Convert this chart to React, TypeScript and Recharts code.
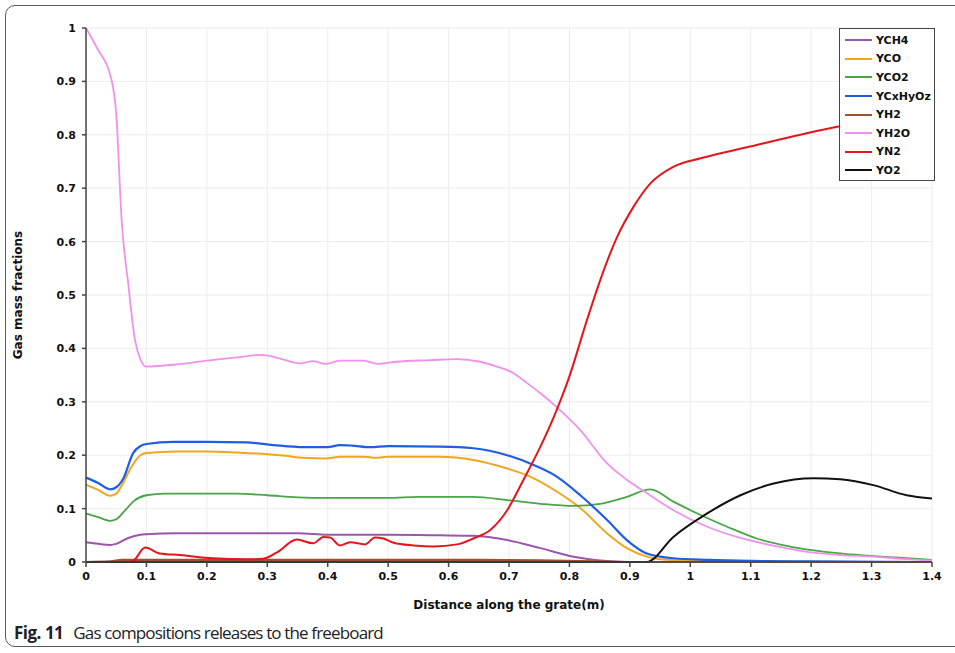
import { LineChart, Line, XAxis, YAxis, CartesianGrid, Legend } from 'recharts';

// [distance (m), mass fraction] pairs for each species along the grate
const yCH4: [number, number][] = [
    [0, 0.037], [0.02, 0.034], [0.04, 0.032], [0.05, 0.034], [0.07, 0.045], [0.09, 0.051], [0.1, 0.052],
    [0.15, 0.054], [0.25, 0.054], [0.35, 0.054], [0.4, 0.051], [0.5, 0.051], [0.586, 0.05], [0.641, 0.049],
    [0.697, 0.041], [0.752, 0.026], [0.807, 0.01], [0.862, 0.002], [0.9, 0], [1.4, 0],
];

const yCO: [number, number][] = [
    [0, 0.145], [0.02, 0.135], [0.04, 0.124], [0.05, 0.128], [0.06, 0.145], [0.075, 0.178], [0.09, 0.2],
    [0.1, 0.204], [0.15, 0.207], [0.2, 0.207], [0.25, 0.205], [0.3, 0.202], [0.33, 0.199], [0.36, 0.195],
    [0.4, 0.194], [0.42, 0.197], [0.46, 0.197], [0.48, 0.195], [0.5, 0.197], [0.586, 0.197], [0.641, 0.191],
    [0.697, 0.175], [0.735, 0.16], [0.779, 0.132], [0.818, 0.101], [0.862, 0.054], [0.895, 0.026],
    [0.928, 0.01], [0.96, 0.004], [1.0, 0.002], [1.1, 0.001], [1.4, 0],
];

const yCO2: [number, number][] = [
    [0, 0.091], [0.02, 0.084], [0.04, 0.077], [0.05, 0.08], [0.065, 0.097], [0.08, 0.115], [0.1, 0.125],
    [0.13, 0.128], [0.2, 0.128], [0.25, 0.128], [0.3, 0.125], [0.35, 0.121], [0.4, 0.12], [0.5, 0.12],
    [0.55, 0.122], [0.641, 0.122], [0.697, 0.116], [0.752, 0.109], [0.807, 0.105], [0.851, 0.109],
    [0.895, 0.122], [0.934, 0.136], [0.972, 0.113], [1.017, 0.088], [1.061, 0.066], [1.11, 0.044],
    [1.165, 0.029], [1.248, 0.016], [1.358, 0.007], [1.4, 0.004],
];

const yCxHyOz: [number, number][] = [
    [0, 0.158], [0.02, 0.148], [0.04, 0.136], [0.05, 0.14], [0.062, 0.157], [0.078, 0.204], [0.09, 0.217],
    [0.1, 0.221], [0.145, 0.225], [0.2, 0.225], [0.266, 0.224], [0.31, 0.219], [0.36, 0.215], [0.4, 0.215],
    [0.42, 0.219], [0.44, 0.218], [0.47, 0.215], [0.5, 0.217], [0.586, 0.216], [0.641, 0.213], [0.697, 0.2],
    [0.74, 0.182], [0.779, 0.16], [0.818, 0.125], [0.862, 0.079], [0.895, 0.041], [0.928, 0.016],
    [0.972, 0.007], [1.03, 0.004], [1.1, 0.002], [1.2, 0.001], [1.4, 0],
];

const yH2: [number, number][] = [
    [0, 0], [0.04, 0.001], [0.06, 0.004], [0.3, 0.004], [0.6, 0.004], [0.75, 0.003], [0.85, 0.001], [0.9, 0], [1.4, 0],
];

const yH2O: [number, number][] = [
    [0, 1.0], [0.018, 0.963], [0.043, 0.899], [0.05, 0.84], [0.059, 0.64], [0.07, 0.52], [0.081, 0.416],
    [0.09, 0.38], [0.099, 0.366], [0.15, 0.37], [0.2, 0.377], [0.25, 0.383], [0.29, 0.388], [0.321, 0.381],
    [0.354, 0.372], [0.376, 0.376], [0.396, 0.371], [0.42, 0.377], [0.459, 0.377], [0.484, 0.371],
    [0.514, 0.375], [0.57, 0.378], [0.614, 0.38], [0.652, 0.375], [0.68, 0.366], [0.707, 0.354],
    [0.73, 0.335], [0.752, 0.316], [0.779, 0.29], [0.818, 0.247], [0.862, 0.185], [0.895, 0.154],
    [0.928, 0.129], [0.972, 0.097], [1.028, 0.066], [1.083, 0.045], [1.14, 0.03], [1.193, 0.019],
    [1.25, 0.013], [1.303, 0.01], [1.35, 0.006], [1.4, 0.003],
];

const yN2: [number, number][] = [
    [0, 0], [0.07, 0], [0.078, 0.002], [0.098, 0.027], [0.122, 0.016], [0.155, 0.013], [0.21, 0.007],
    [0.266, 0.005], [0.293, 0.006], [0.316, 0.018], [0.349, 0.042], [0.376, 0.035], [0.393, 0.047],
    [0.404, 0.046], [0.42, 0.031], [0.437, 0.037], [0.462, 0.033], [0.478, 0.046], [0.492, 0.044],
    [0.509, 0.036], [0.542, 0.031], [0.575, 0.029], [0.614, 0.033], [0.641, 0.044], [0.669, 0.06],
    [0.697, 0.097], [0.724, 0.154], [0.752, 0.216], [0.779, 0.285], [0.798, 0.341], [0.829, 0.453],
    [0.851, 0.528], [0.879, 0.609], [0.906, 0.665], [0.934, 0.709], [0.972, 0.74], [1.017, 0.756],
    [1.099, 0.778], [1.182, 0.8], [1.243, 0.815], [1.32, 0.83], [1.4, 0.845],
];

const yO2: [number, number][] = [
    [0, 0], [0.928, 0], [0.972, 0.047], [1.028, 0.091], [1.083, 0.125], [1.138, 0.147], [1.204, 0.157],
    [1.248, 0.155], [1.303, 0.144], [1.358, 0.125], [1.4, 0.119],
];

const xTicks = [0, 0.1, 0.2, 0.3, 0.4, 0.5, 0.6, 0.7, 0.8, 0.9, 1, 1.1, 1.2, 1.3, 1.4];
const yTicks = [0, 0.1, 0.2, 0.3, 0.4, 0.5, 0.6, 0.7, 0.8, 0.9, 1];

const series = [
    { name: 'YCH4', points: yCH4, color: '#9c55a8', width: 2 },
    { name: 'YCO', points: yCO, color: '#f2a51e', width: 2 },
    { name: 'YCO2', points: yCO2, color: '#47a646', width: 1.8 },
    { name: 'YCxHyOz', points: yCxHyOz, color: '#1f5ee0', width: 2.2 },
    { name: 'YH2', points: yH2, color: '#a0522d', width: 2.2 },
    { name: 'YH2O', points: yH2O, color: '#f091ee', width: 1.8 },
    { name: 'YN2', points: yN2, color: '#e4161b', width: 2 },
    { name: 'YO2', points: yO2, color: '#111111', width: 2 },
];

const fmt = (v: number) => String(Math.round(v * 10) / 10);

const tickStyle = { fill: '#111', fontSize: 11, fontWeight: 700, fontFamily: 'DejaVu Sans, sans-serif' };

function SpeciesLegend() {
    return (
        <div
            style={{
                width: 96,
                height: 153,
                border: '1px solid #444',
                background: '#fff',
                boxSizing: 'border-box',
                paddingTop: 2,
                fontFamily: 'DejaVu Sans, sans-serif',
                fontWeight: 700,
                fontSize: 11,
                lineHeight: '13px',
                color: '#111',
            }}
        >
            {series.map((s) => (
                <div key={s.name} style={{ display: 'flex', alignItems: 'center', height: 18.6 }}>
                    <div style={{ width: 27, height: 2, background: s.color, marginLeft: 5, marginRight: 4 }} />
                    <span>{s.name}</span>
                </div>
            ))}
        </div>
    );
}

function YTitle({ viewBox }: any) {
    const cy = viewBox.y + viewBox.height / 2;
    return (
        <text
            x={18}
            y={cy}
            transform={`rotate(-90, 18, ${cy})`}
            textAnchor="middle"
            dominantBaseline="central"
            style={{ fontSize: 12, fontWeight: 700, fontFamily: 'DejaVu Sans, sans-serif', fill: '#111' }}
        >
            Gas mass fractions
        </text>
    );
}

export default function App() {
    return (
        <div style={{ position: 'fixed', inset: 0, width: 955, height: 653, overflow: 'hidden', background: '#fff' }}>
            <div
                style={{
                    position: 'absolute',
                    left: 5,
                    top: 5,
                    width: 975,
                    height: 642,
                    border: '1px solid #5a5a5a',
                    borderRadius: 10,
                    boxSizing: 'border-box',
                }}
            />
            <LineChart
                width={955}
                height={653}
                margin={{ top: 28, right: 23, left: 26, bottom: 41 }}
                style={{ position: 'absolute', left: 0, top: 0 }}
            >
                <CartesianGrid stroke="#ececec" strokeWidth={1} />
                <XAxis
                    type="number"
                    dataKey="x"
                    domain={[0, 1.4]}
                    ticks={xTicks}
                    tickFormatter={fmt}
                    tick={tickStyle}
                    tickSize={5}
                    tickMargin={5}
                    height={50}
                    stroke="#444"
                    strokeWidth={1.5}
                    allowDuplicatedCategory={false}
                    label={{
                        value: 'Distance along the grate(m)',
                        position: 'insideBottom',
                        offset: 3,
                        style: { fontSize: 12, fontWeight: 700, fontFamily: 'DejaVu Sans, sans-serif', fill: '#111' },
                    }}
                />
                <YAxis
                    type="number"
                    dataKey="y"
                    domain={[0, 1]}
                    ticks={yTicks}
                    tickFormatter={fmt}
                    tick={tickStyle}
                    tickSize={4}
                    tickMargin={6}
                    width={60}
                    stroke="#444"
                    strokeWidth={1.5}
                    label={{ content: YTitle }}
                />
                <Legend
                    layout="vertical"
                    align="center"
                    verticalAlign="middle"
                    content={SpeciesLegend}
                    wrapperStyle={{ left: 839, top: 28, width: 96 }}
                />
                {series.map((s) => (
                    <Line
                        key={s.name}
                        name={s.name}
                        data={s.points.map(([x, y]) => ({ x, y }))}
                        dataKey="y"
                        type="monotone"
                        stroke={s.color}
                        strokeWidth={s.width}
                        dot={false}
                        isAnimationActive={false}
                    />
                ))}
            </LineChart>
            <div
                style={{
                    position: 'absolute',
                    left: 14,
                    top: 621,
                    fontFamily: '"Open Sans", sans-serif',
                    fontSize: 17,
                    color: '#222',
                    whiteSpace: 'nowrap',
                }}
            >
                <b style={{ letterSpacing: -0.5 }}>Fig. 11</b>
                <span style={{ marginLeft: 10, letterSpacing: -0.85 }}>Gas compositions releases to the freeboard</span>
            </div>
        </div>
    );
}
